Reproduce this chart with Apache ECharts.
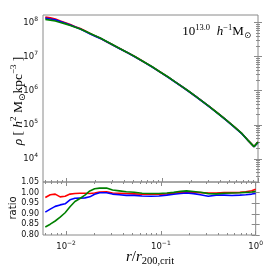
<!DOCTYPE html>
<html><head><meta charset="utf-8">
<script src="https://cdn.jsdelivr.net/npm/echarts@6/dist/echarts.min.js"></script>
<style>html,body{margin:0;padding:0;background:#fff}#c{width:266px;height:266px}</style>
</head><body><div id="c"></div>
<script>
// ---- data (r / r200,crit and density in h^2 Msun kpc^-3) ----
const radius = [0.00604,0.00681,0.00768,0.00866,0.00977,0.0110,0.0124,0.0140,0.0158,0.0178,0.0200,0.0226,0.0267,0.0309,0.0365,0.0432,0.0523,0.0634,0.0787,0.0953,0.1155,0.1365,0.1616,0.1866,0.2207,0.2610,0.3162,0.3831,0.4642,0.5623,0.6813,0.787,0.9085,1.0];
const rhoRed = [1.445e8,1.363e8,1.269e8,1.111e8,9.88e7,8.67e7,7.53e7,6.63e7,5.60e7,4.70e7,4.01e7,3.45e7,2.68e7,2.17e7,1.69e7,1.32e7,9.83e6,7.17e6,4.99e6,3.54e6,2.50e6,1.81e6,1.31e6,9.88e5,7.02e5,4.94e5,3.31e5,2.15e5,1.39e5,8.85e4,5.48e4,3.51e4,2.30e4,3.12e4];
const rhoBlue = [1.342e8,1.270e8,1.195e8,1.068e8,9.52e7,8.44e7,7.35e7,6.47e7,5.48e7,4.63e7,3.98e7,3.43e7,2.67e7,2.16e7,1.68e7,1.31e7,9.76e6,7.12e6,4.94e6,3.51e6,2.48e6,1.80e6,1.31e6,9.83e5,6.98e5,4.89e5,3.26e5,2.13e5,1.38e5,8.72e4,5.41e4,3.46e4,2.27e4,3.06e4];
const rhoGreen = [1.239e8,1.172e8,1.107e8,1.002e8,9.10e7,8.15e7,7.24e7,6.46e7,5.55e7,4.76e7,4.09e7,3.51e7,2.73e7,2.20e7,1.71e7,1.33e7,9.91e6,7.21e6,5.01e6,3.55e6,2.51e6,1.82e6,1.32e6,9.93e5,7.05e5,4.95e5,3.30e5,2.14e5,1.39e5,8.83e4,5.47e4,3.50e4,2.29e4,3.09e4];
const ratioRed = [0.977,0.990,0.993,0.980,0.983,0.993,0.996,0.997,0.997,0.996,0.998,1.003,1.004,0.998,0.997,0.996,0.994,0.992,0.992,0.992,0.994,0.997,1.001,1.003,1.001,1.000,0.998,0.998,1.000,1.000,1.001,1.004,1.009,1.016];
const ratioBlue = [0.908,0.922,0.935,0.942,0.947,0.966,0.973,0.974,0.975,0.980,0.992,0.999,0.999,0.993,0.990,0.987,0.987,0.984,0.983,0.984,0.988,0.992,0.996,0.998,0.995,0.990,0.983,0.988,0.988,0.986,0.988,0.990,0.993,0.996];
const ratioGreen = [0.838,0.851,0.866,0.884,0.905,0.933,0.958,0.972,0.988,1.008,1.018,1.021,1.022,1.012,1.008,1.004,1.002,0.997,0.996,0.996,0.998,1.001,1.006,1.008,1.005,1.002,0.995,0.994,0.997,0.998,0.999,1.001,1.003,1.006];
const xRange = [0.00571, 1];
const rhoRange = [2.1e3, 1.66e8];
const ratioRange = [0.80, 1.05];
const xTickExponents = [-2, -1, 0];
const rhoTickExponents = [4, 5, 6, 7, 8];
const ratioTicks = [0.80, 0.85, 0.90, 0.95, 1.00, 1.05];
const massLabel = '13.0';

// ---- helpers ----
const lg = Math.log10;
function minorLogs(lo, hi) {
  const out = [];
  for (let n = Math.floor(lo) - 1; n <= Math.ceil(hi); n++) {
    for (let k = 2; k <= 9; k++) {
      const v = n + lg(k);
      if (v > lo && v < hi) out.push(v);
    }
  }
  return out;
}
const xLo = lg(xRange[0]), xHi = lg(xRange[1]);
const yLo = lg(rhoRange[0]), yHi = lg(rhoRange[1]);
const xMinor = minorLogs(xLo, xHi);
const yMinor = minorLogs(yLo, yHi);

const FRAME = '#8a8a8a';
const sansFont = 'DejaVu Sans';
const serifFont = 'Liberation Serif';
const expRich = {
  b: { fontSize: 8.5, fontFamily: sansFont, color: '#111', lineHeight: 13 },
  s: { fontSize: 6, fontFamily: sansFont, color: '#111', verticalAlign: 'top', lineHeight: 7 }
};
const fmtExp = v => '{b|10}{s|' + String(Math.round(v)).replace('-', '\u2212') + '}';

function xAx(grid, pos, ticks, len, labels) {
  return {
    type: 'value', gridIndex: grid, position: pos, min: xLo, max: xHi,
    axisLine: { show: false }, splitLine: { show: false },
    axisTick: { show: true, inside: true, length: len, customValues: ticks, lineStyle: { color: FRAME, width: 1 } },
    axisLabel: labels ? { show: true, customValues: ticks, margin: 5, formatter: fmtExp, rich: expRich } : { show: false }
  };
}
function yAx(grid, pos, lo, hi, ticks, len, label) {
  return {
    type: 'value', gridIndex: grid, position: pos, min: lo, max: hi,
    axisLine: { show: false }, splitLine: { show: false },
    axisTick: { show: true, inside: true, length: len, customValues: ticks, lineStyle: { color: FRAME, width: 1 } },
    axisLabel: label ? Object.assign({ show: true, customValues: ticks, margin: 5 }, label) : { show: false }
  };
}

const topLabel = { formatter: fmtExp, rich: expRich };
const ratioLabel = { formatter: v => v.toFixed(2), fontSize: 8, fontFamily: sansFont, color: '#111', margin: 4 };

function profile(rho) { return radius.map((r, i) => [lg(r), lg(rho[i])]); }
function ratioData(q) { return radius.map((r, i) => [lg(r), q[i]]); }
function line(data, color, xi, yi, w) {
  return { type: 'line', xAxisIndex: xi, yAxisIndex: yi, data, showSymbol: false, symbol: 'none',
    lineStyle: { color, width: w }, itemStyle: { color }, z: 3 };
}

const chart = echarts.init(document.getElementById('c'), null, { renderer: 'canvas' });
const mk = (size, extra) => Object.assign({ fontSize: size, fontFamily: serifFont, color: '#111' }, extra || {});
chart.setOption({
  animation: false,
  backgroundColor: '#fff',
  grid: [
    { left: 43, right: 8, top: 15, height: 167, show: true, borderColor: FRAME, borderWidth: 1, backgroundColor: 'transparent' },
    { left: 43, right: 8, top: 182, height: 53, show: true, borderColor: FRAME, borderWidth: 1, backgroundColor: 'transparent' }
  ],
  xAxis: [
    xAx(0, 'bottom', xTickExponents, 4, false),
    xAx(0, 'bottom', xMinor, 2, false),
    xAx(1, 'bottom', xTickExponents, 4, true),
    xAx(1, 'bottom', xMinor, 2, false),
    xAx(1, 'top', xTickExponents, 4, false),
    xAx(1, 'top', xMinor, 2, false)
  ],
  yAxis: [
    yAx(0, 'left', yLo, yHi, rhoTickExponents, 4, topLabel),
    yAx(0, 'left', yLo, yHi, yMinor, 2, null),
    yAx(0, 'right', yLo, yHi, rhoTickExponents, 4, null),
    yAx(0, 'right', yLo, yHi, yMinor, 2, null),
    yAx(1, 'left', ratioRange[0], ratioRange[1], ratioTicks, 4, ratioLabel),
    yAx(1, 'right', ratioRange[0], ratioRange[1], ratioTicks, 4, null)
  ],
  series: [
    line(profile(rhoRed), '#ff0000', 0, 0, 1.7),
    line(profile(rhoBlue), '#0000ff', 0, 0, 1.7),
    line(profile(rhoGreen), '#008000', 0, 0, 1.7),
    line(ratioData(ratioRed), '#ff0000', 2, 4, 1.6),
    line(ratioData(ratioBlue), '#0000ff', 2, 4, 1.6),
    line(ratioData(ratioGreen), '#008000', 2, 4, 1.6)
  ],
  graphic: [
    { type: 'text', x: 18, y: 101, rotation: Math.PI / 2, z: 10,
      style: { text: '{i|\u03c1} {n|[} {i|h}{s|2} {n|M}{o|\u2299}{n|kpc}{s|\u22123} {n|]}',
        align: 'center', verticalAlign: 'middle', textAlign: 'center', textVerticalAlign: 'middle',
        rich: {
          n: mk(13.5, { lineHeight: 18 }),
          i: mk(13.5, { fontStyle: 'italic', lineHeight: 18 }),
          s: mk(9, { verticalAlign: 'top', lineHeight: 9 }),
          o: { fontSize: 9, fontFamily: 'DejaVu Sans', color: '#111', verticalAlign: 'bottom', lineHeight: 9 }
        } } },
    { type: 'text', x: 13, y: 208, rotation: Math.PI / 2, z: 10,
      style: { text: 'ratio', fontSize: 10, fontFamily: sansFont, fill: '#111',
        align: 'center', verticalAlign: 'middle', textAlign: 'center', textVerticalAlign: 'middle' } },
    { type: 'text', x: 251, y: 32, z: 10,
      style: { text: '{n|10}{s|' + massLabel + '}  {i|h}{s|\u22121}{n|M}{o|\u2299}',
        align: 'right', verticalAlign: 'middle', textAlign: 'right', textVerticalAlign: 'middle',
        rich: {
          n: mk(13, { lineHeight: 17 }),
          i: mk(13, { fontStyle: 'italic', lineHeight: 17 }),
          s: mk(8.5, { verticalAlign: 'top', lineHeight: 8.5 }),
          o: { fontSize: 8.5, fontFamily: 'DejaVu Sans', color: '#111', verticalAlign: 'bottom', lineHeight: 8.5 }
        } } },
    { type: 'text', x: 150, y: 257, z: 10,
      style: { text: '{i|r}{n|/}{i|r}{b|200,crit}',
        align: 'center', verticalAlign: 'middle', textAlign: 'center', textVerticalAlign: 'middle',
        rich: {
          n: mk(15, { lineHeight: 19 }),
          i: mk(15, { fontStyle: 'italic', lineHeight: 19 }),
          b: mk(10.5, { verticalAlign: 'bottom', lineHeight: 10.5 })
        } } }
  ]
});
</script></body></html>
